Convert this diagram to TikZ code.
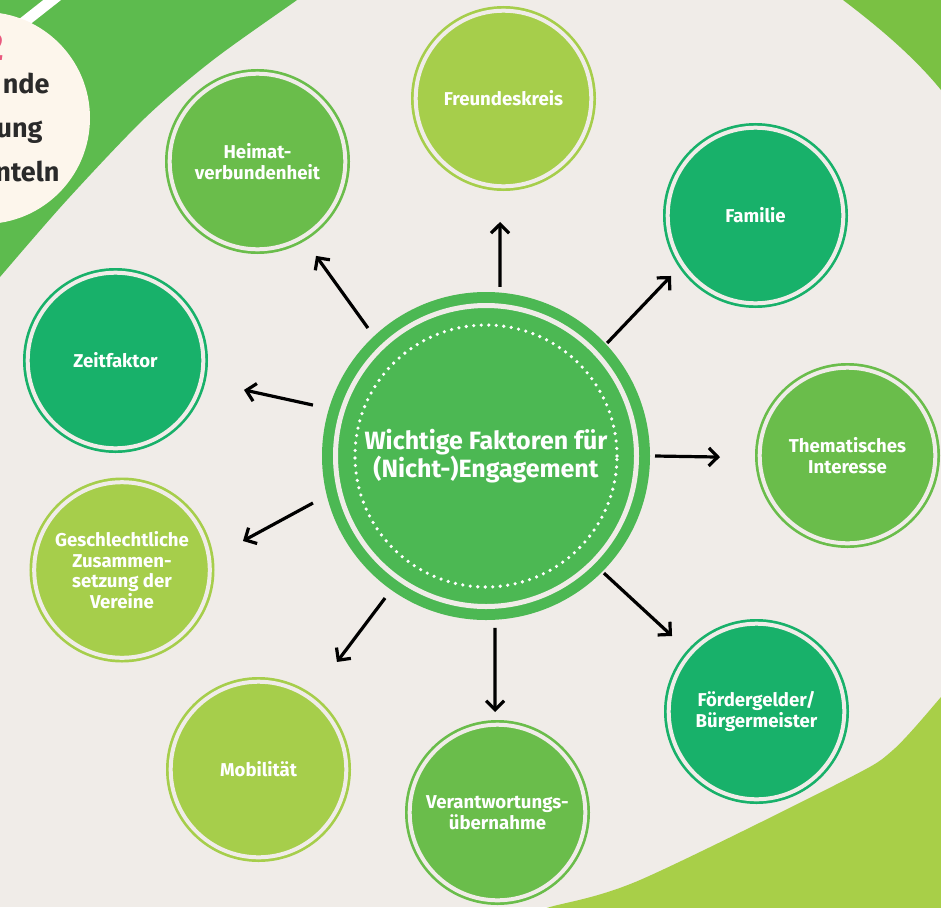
\documentclass[tikz,border=0pt]{standalone}
\usepackage{fontspec}
\setmainfont{Fira Sans}
\usetikzlibrary{arrows.meta,calc}
\definecolor{bgbeige}{HTML}{F0ECE8}
\definecolor{tlgreen}{HTML}{5DBB4E}
\definecolor{trgreen}{HTML}{7AC143}
\definecolor{brgreen}{HTML}{A8CF48}
\definecolor{creamc}{HTML}{FDF6EC}
\definecolor{pinkc}{HTML}{E9587E}
\definecolor{darktxt}{HTML}{2A2A2A}
\definecolor{lightg}{HTML}{A6CE4B}
\definecolor{midg}{HTML}{6ABD4B}
\definecolor{tealg}{HTML}{18B16A}
\definecolor{centg}{HTML}{4CB853}
\begin{document}
\begin{tikzpicture}[x=1pt,y=1pt,
  sat/.style={circle,minimum size=175.6pt,inner sep=0pt,fill=#1,draw=#1,line width=2.7pt,
    double=bgbeige,double distance=4pt,text=white,align=center,
    font=\bfseries\fontsize{18.6}{20.5}\selectfont},
  arr/.style={line width=3.2pt,black,-{Straight Barb[length=9pt,width=18pt]}},
  sidetxt/.style={anchor=base east,text=darktxt,font=\bfseries\fontsize{27}{27}\selectfont}]
\useasboundingbox (0,0) rectangle (941,-907);
\begin{scope}
\clip (0,0) rectangle (941,-907);
\fill[bgbeige] (0,0) rectangle (941,-907);
% top-left green
\fill[tlgreen] plot[smooth] coordinates {(310,10) (297,0) (213,-60) (145,-118) (67,-200) (0,-277) (-10,-290)} -- (-10,10) -- cycle;
% top-right green
\fill[trgreen] (843,0) .. controls (880,-28) and (915,-58) .. (941,-90) -- (945,-90) -- (945,5) -- (843,5) -- cycle;
% bottom-right green
\fill[brgreen] plot[smooth] coordinates {(520,-915) (550,-907) (640,-880) (845,-780) (893,-750) (941,-697) (950,-685)} -- (950,-915) -- cycle;
% white stripe
\draw[white,line width=11pt] (75,18) -- (-5,-45);
% cream circle
\fill[creamc] (-16,-118) circle[radius=106];
\end{scope}
\node[anchor=base east,text=pinkc,font=\bfseries\fontsize{40}{40}\selectfont] (t2) at (8,-60) {2};
\node[sidetxt] (t3) at (53,-93) {nde};
\node[sidetxt] (t4) at (46,-137) {ung};
\node[sidetxt] (t5) at (63,-181) {nteln};
% central node
\node[circle,minimum size=301pt,inner sep=0pt,fill=centg,draw=centg,line width=11pt,
  double=bgbeige,double distance=5pt,text=white,align=center,
  font=\bfseries\fontsize{25}{28}\selectfont] (c) at (486,-456) {Wichtige Faktoren für\\(Nicht-)Engagement};
\draw[white,line width=3.6pt,line cap=round,dash pattern=on 0pt off 7.52pt] (c.center) circle[radius=131];
% satellites
\node[sat=lightg] (fr) at (503.5,-98.5) {Freundeskreis};
\node[sat=midg] (he) at (257.5,-161.5) {Heimat-\\verbundenheit};
\node[sat=tealg] (fa) at (755.5,-215.5) {Familie};
\node[sat=tealg] (ze) at (115.5,-360.5) {Zeitfaktor};
\node[sat=midg] (th) at (847.5,-455.5) {Thematisches\\Interesse};
\node[sat=lightg] (ge) at (122,-570) {Geschlechtliche\\Zusammen-\\setzung der\\Vereine};
\node[sat=lightg] (mo) at (258.5,-769.5) {Mobilität};
\node[sat=midg] (ve) at (497.5,-812.5) {Verantwortungs-\\übernahme};
\node[sat=tealg] (fo) at (756.5,-711.5) {Fördergelder/\\Bürgermeister};
% arrows
\draw[arr] ($(c)+(85.3:169.6)$) -- ($(fr)+(268.4:123.5)$);
\draw[arr] ($(c)+(132.7:174.1)$) -- ($(he)+(-58.2:111.1)$);
\draw[arr] ($(c)+(43.0:165.6)$) -- ($(fa)+(215.6:103.9)$);
\draw[arr] ($(c)+(163.6:180.4)$) -- ($(ze)+(-12.9:131.8)$);
\draw[arr] ($(c)+(0:169)$) -- ($(th)+(180.7:127.5)$);
\draw[arr] ($(c)+(195.2:179.3)$) -- ($(ge)+(13.5:124.4)$);
\draw[arr] ($(c)+(234.6:174.3)$) -- ($(mo)+(53.9:133.1)$);
\draw[arr] ($(c)+(273:172.2)$) -- ($(ve)+(91.4:100.5)$);
\draw[arr] ($(c)+(-44.8:166.2)$) -- ($(fo)+(138.2:113.3)$);
\end{tikzpicture}
\end{document}
